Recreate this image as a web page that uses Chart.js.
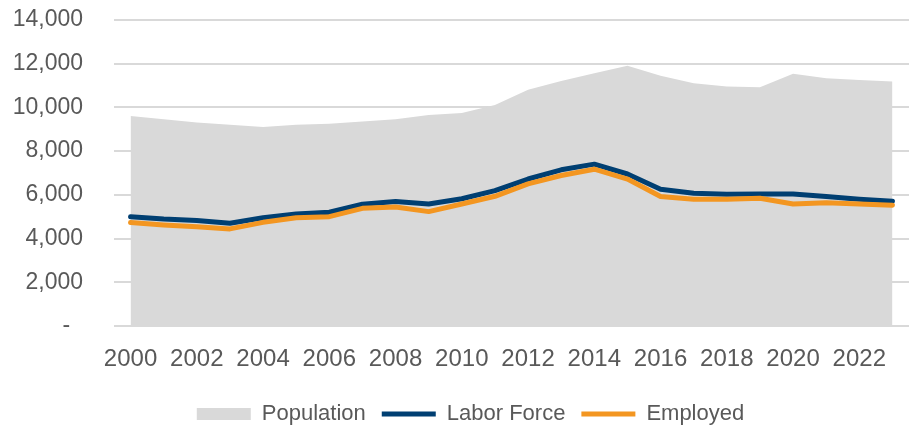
<!DOCTYPE html>
<html>
<head>
<meta charset="utf-8">
<script src="https://cdn.jsdelivr.net/npm/chart.js@4.4.1/dist/chart.umd.min.js"></script>
<style>
  html, body { margin:0; padding:0; background:#fff; overflow:hidden; }
  #wrap { width:917px; height:426px; position:relative; }
</style>
</head>
<body>
<div id="wrap"><canvas id="chart"></canvas></div>
<script>
const years = ['2000','2001','2002','2003','2004','2005','2006','2007','2008','2009','2010','2011',
               '2012','2013','2014','2015','2016','2017','2018','2019','2020','2021','2022','2023'];

const population = [9600, 9450, 9300, 9200, 9100, 9200, 9250, 9350, 9450, 9650, 9740, 10100,
                    10800, 11200, 11560, 11900, 11440, 11100, 10950, 10920, 11530, 11330, 11250, 11180];

const laborForce = [5000, 4890, 4820, 4700, 4950, 5120, 5200, 5570, 5690, 5580, 5820, 6190,
                    6720, 7140, 7400, 6950, 6250, 6070, 6020, 6040, 6040, 5920, 5800, 5700];

const employed = [4730, 4620, 4540, 4440, 4740, 4950, 5000, 5380, 5440, 5230, 5580, 5930,
                  6500, 6880, 7170, 6720, 5920, 5800, 5800, 5840, 5580, 5640, 5580, 5520];

const yTicks = [0, 2000, 4000, 6000, 8000, 10000, 12000, 14000];

const textColor = '#595959';
const sans = '"Liberation Sans", Arial, Helvetica, sans-serif';

function fmtTick(v){
  if(v === 0) return '-  ';
  return Number(v).toLocaleString('en-US');
}

// the original legend sits a little right of the canvas centre
const legendNudge = {
  id:'legendNudge',
  afterLayout(chart){
    if(chart.legend){ chart.legend.left += 11; chart.legend.right += 11; }
  }
};

new Chart(document.getElementById('chart'), {
  type:'line',
  data:{
    labels: years,
    datasets:[
      { label:'Population', data:population, fill:'origin', backgroundColor:'#d9d9d9',
        borderWidth:0, pointRadius:0, pointStyle:'rect', tension:0, order:3 },
      { label:'Labor Force', data:laborForce, fill:false, borderColor:'#003f72', backgroundColor:'#003f72',
        borderWidth:5, borderCapStyle:'round', borderJoinStyle:'round', pointRadius:0, pointStyle:'line', tension:0, order:2 },
      { label:'Employed', data:employed, fill:false, borderColor:'#f39621', backgroundColor:'#f39621',
        borderWidth:5, borderCapStyle:'round', borderJoinStyle:'round', pointRadius:0, pointStyle:'line', tension:0, order:1 }
    ]
  },
  options:{
    responsive:true,
    maintainAspectRatio:false,
    animation:false,
    layout:{ padding:{ left:10, right:8, top:0, bottom:-9 } },
    plugins:{
      tooltip:{ enabled:false },
      legend:{
        position:'bottom',
        labels:{
          color:textColor,
          font:{ family:sans, size:22 },
          usePointStyle:true,
          pointStyleWidth:54,
          boxHeight:12,
          padding:16,
          sort:(a,b) => a.datasetIndex - b.datasetIndex
        }
      }
    },
    scales:{
      x:{
        offset:true,
        grid:{ display:false },
        border:{ display:false },
        afterFit:(axis) => { axis.height = 61; },
        ticks:{
          color:textColor,
          font:{ family:sans, size:24 },
          autoSkip:false,
          maxRotation:0,
          padding:11,
          callback:(v,i) => i % 2 === 0 ? years[i] : ''
        }
      },
      y:{
        min:0, max:14000,
        afterBuildTicks:(axis) => { axis.ticks = yTicks.map(v => ({ value:v })); },
        afterFit:(axis) => { axis.width = 104; },
        grid:{ color:'#d9d9d9', lineWidth:2, drawTicks:true, tickLength:25, tickColor:'rgba(0,0,0,0)' },
        border:{ display:false },
        ticks:{
          color:textColor,
          font:{ family:sans, size:23 },
          padding:6,
          callback:(v) => fmtTick(v)
        }
      }
    }
  },
  plugins:[legendNudge]
});
</script>
</body>
</html>
